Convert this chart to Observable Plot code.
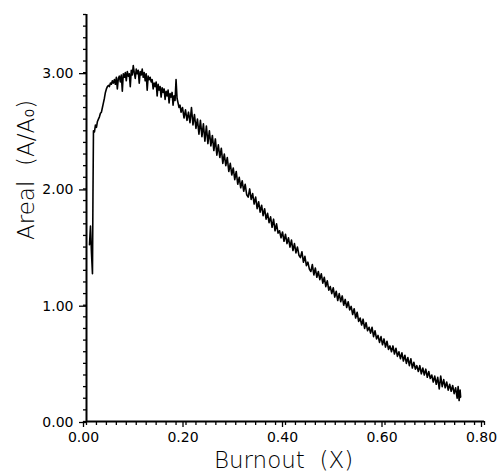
<!DOCTYPE html>
<html>
<head>
<meta charset="utf-8">
<script src="https://cdn.jsdelivr.net/npm/d3@7"></script>
<script src="https://cdn.jsdelivr.net/npm/@observablehq/plot@0.6"></script>
<style>
  html, body { margin: 0; padding: 0; background: #fff; }
</style>
</head>
<body>
<div id="chart"></div>
<script>
const burnout = [
0.006,0.008,0.010,0.012,0.013,0.014,0.016,0.018,0.020,0.022,0.024,0.026,0.028,0.030,0.032,0.034,0.036,0.038,0.040,0.042,
0.044,0.046,0.048,0.050,0.052,0.054,0.056,0.058,0.060,0.062,0.064,0.066,0.068,0.070,0.072,0.074,0.076,0.078,0.080,0.082,
0.084,0.086,0.088,0.090,0.092,0.094,0.096,0.098,0.100,0.102,0.104,0.106,0.108,0.110,0.112,0.114,0.116,0.118,0.120,0.122,
0.124,0.126,0.128,0.130,0.132,0.134,0.136,0.138,0.140,0.142,0.144,0.146,0.148,0.150,0.152,0.154,0.156,0.158,0.160,0.162,
0.164,0.166,0.168,0.170,0.172,0.174,0.176,0.178,0.180,0.182,0.184,0.186,0.188,0.190,0.193,0.196,0.199,0.202,0.205,0.208,
0.211,0.214,0.217,0.220,0.223,0.226,0.229,0.232,0.235,0.238,0.241,0.244,0.247,0.250,0.253,0.256,0.259,0.262,0.265,0.268,
0.271,0.274,0.277,0.280,0.283,0.286,0.289,0.292,0.295,0.298,0.301,0.304,0.307,0.310,0.313,0.316,0.319,0.322,0.325,0.328,
0.331,0.334,0.337,0.340,0.343,0.346,0.349,0.352,0.355,0.358,0.361,0.364,0.367,0.370,0.373,0.376,0.379,0.382,0.385,0.388,
0.391,0.394,0.397,0.400,0.403,0.406,0.409,0.412,0.415,0.418,0.421,0.424,0.427,0.430,0.433,0.436,0.439,0.442,0.445,0.448,
0.451,0.454,0.457,0.460,0.463,0.466,0.469,0.472,0.475,0.478,0.481,0.484,0.487,0.490,0.493,0.496,0.499,0.502,0.505,0.508,
0.511,0.514,0.517,0.520,0.523,0.526,0.529,0.532,0.535,0.538,0.541,0.544,0.547,0.550,0.553,0.556,0.559,0.562,0.565,0.568,
0.571,0.574,0.577,0.580,0.583,0.586,0.589,0.592,0.595,0.598,0.601,0.604,0.607,0.610,0.613,0.616,0.619,0.622,0.625,0.628,
0.631,0.634,0.637,0.640,0.643,0.646,0.649,0.652,0.655,0.658,0.661,0.664,0.667,0.670,0.673,0.676,0.679,0.682,0.685,0.688,
0.691,0.694,0.697,0.700,0.703,0.706,0.709,0.712,0.715,0.718,0.721,0.724,0.727,0.730,0.733,0.736,0.739,0.742,0.745,0.747,
0.749,0.751,0.752
];
const areal = [
1.52,1.68,1.45,1.27,1.95,2.50,2.49,2.55,2.53,2.58,2.60,2.62,2.65,2.66,2.70,2.74,2.78,2.83,2.86,2.88,
2.89,2.88,2.91,2.90,2.93,2.91,2.94,2.90,2.96,2.86,2.95,2.97,2.92,2.98,2.84,2.99,2.96,3.00,2.93,3.01,
2.97,2.99,2.88,3.02,2.98,3.06,3.00,2.95,3.03,2.99,3.02,2.91,3.01,2.98,3.03,2.96,3.00,2.93,2.99,2.85,
2.97,2.94,2.96,2.92,2.94,2.86,2.91,2.88,2.92,2.80,2.90,2.85,2.88,2.79,2.87,2.83,2.86,2.77,2.84,2.80,
2.85,2.74,2.82,2.79,2.83,2.72,2.80,2.76,2.94,2.78,2.74,2.70,2.72,2.66,2.70,2.61,2.68,2.59,2.66,2.57,
2.70,2.55,2.64,2.52,2.60,2.47,2.59,2.45,2.56,2.41,2.54,2.39,2.50,2.37,2.46,2.33,2.43,2.29,2.38,2.27,
2.35,2.22,2.30,2.20,2.27,2.15,2.22,2.12,2.18,2.08,2.15,2.04,2.10,2.01,2.07,1.98,2.04,1.95,1.93,2.00,
1.91,1.96,1.87,1.93,1.83,1.89,1.80,1.86,1.77,1.83,1.74,1.79,1.71,1.76,1.67,1.74,1.64,1.70,1.62,1.64,
1.58,1.63,1.55,1.61,1.53,1.58,1.50,1.56,1.47,1.53,1.45,1.50,1.43,1.41,1.46,1.37,1.42,1.34,1.37,1.31,
1.29,1.35,1.26,1.32,1.24,1.29,1.22,1.27,1.19,1.24,1.16,1.21,1.13,1.16,1.10,1.15,1.07,1.12,1.04,1.10,
1.03,1.08,1.00,1.05,0.98,1.03,0.96,0.99,0.92,0.97,0.89,0.94,0.86,0.89,0.83,0.88,0.80,0.85,0.78,0.81,
0.76,0.81,0.73,0.78,0.71,0.74,0.68,0.73,0.66,0.71,0.64,0.69,0.62,0.65,0.60,0.65,0.58,0.63,0.56,0.60,
0.54,0.59,0.52,0.57,0.50,0.55,0.48,0.54,0.46,0.51,0.45,0.48,0.43,0.48,0.41,0.46,0.40,0.45,0.38,0.43,
0.37,0.40,0.34,0.39,0.32,0.38,0.28,0.39,0.30,0.36,0.29,0.34,0.27,0.32,0.26,0.31,0.24,0.29,0.20,0.30,
0.18,0.27,0.21
];
const yMajorTicks = [0, 1, 2, 3];
const yTickLabels = ["0.00", "1.00", "2.00", "3.00"];
const xMajorTicks = [0, 0.2, 0.4, 0.6, 0.8];
const xTickLabels = ["0.00", "0.20", "0.40", "0.60", "0.80"];
const xTitle = "Burnout\u00a0\u00a0(X)";
const yTitle = "Areal\u00a0\u00a0(A/A\u2080)";

const data = burnout.map((b, i) => ({b, a: areal[i]}));
const yMinor = d3.range(0, 36).map(i => i / 10);
const xMinor = d3.range(0, 41).map(i => i / 50);

const chart = Plot.plot({
  width: 499,
  height: 471,
  marginLeft: 86,
  marginRight: 15,
  marginTop: 14,
  marginBottom: 50,
  style: {fontFamily: "DejaVu Sans", background: "#fff", color: "#000"},
  x: {domain: [0, 0.8]},
  y: {domain: [0, 3.5]},
  marks: [
    Plot.axisY({ticks: yMinor, tickSize: 3, tickFormat: () => "", strokeWidth: 1.3, label: null}),
    Plot.axisY({ticks: yMajorTicks, tickSize: 7, tickPadding: 6, strokeWidth: 1.3, label: null,
      tickFormat: (d) => yTickLabels[yMajorTicks.indexOf(d)], fontSize: 14, dy: 1}),
    Plot.axisX({ticks: xMinor, tickSize: 4, tickFormat: () => "", strokeWidth: 1.3, label: null}),
    Plot.axisX({ticks: xMajorTicks, tickSize: 6, tickPadding: 5, strokeWidth: 1.3, label: null,
      tickFormat: (d) => xTickLabels[xMajorTicks.indexOf(d)], fontSize: 14, dx: -3}),
    Plot.ruleX([0], {strokeWidth: 2}),
    Plot.ruleY([0], {strokeWidth: 2}),
    Plot.line(data, {x: "b", y: "a", stroke: "#000", strokeWidth: 1.6, strokeLinejoin: "round"}),
    Plot.text([xTitle], {frameAnchor: "bottom", dy: 46, dx: -2, lineAnchor: "bottom",
      fontSize: 23, fontWeight: 200, fill: "#000"}),
    Plot.text([yTitle], {frameAnchor: "left", dx: -53, dy: 22, rotate: -90, lineAnchor: "bottom",
      fontSize: 23, fontWeight: 200, fill: "#000"})
  ]
});
document.getElementById("chart").appendChild(chart);
</script>
</body>
</html>
